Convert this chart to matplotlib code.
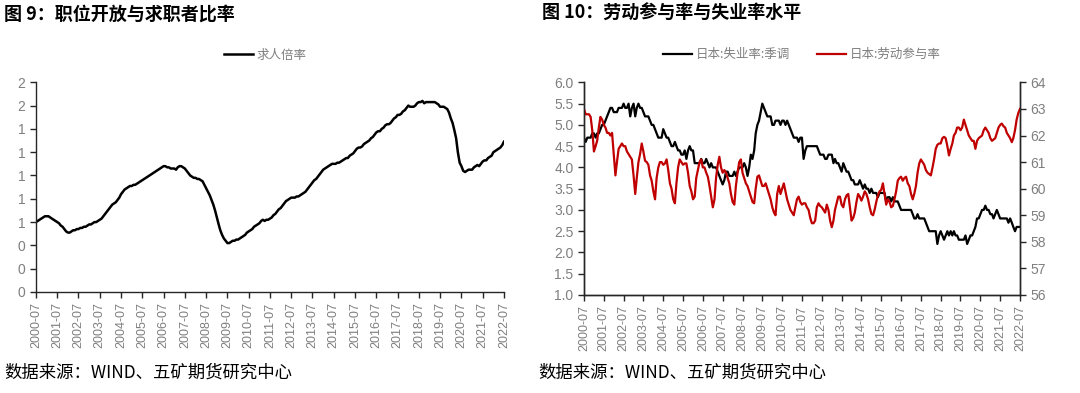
import numpy as np
import pandas as pd
import matplotlib
matplotlib.use("Agg")
import matplotlib.pyplot as plt
from matplotlib.ticker import FuncFormatter

plt.rcParams['font.family'] = ['Noto Sans CJK SC', 'DejaVu Sans']

# monthly data 2000-07 .. 2022-07
months = pd.date_range('2000-07-01', '2022-07-01', freq='MS')

job_ratio = [
    0.60, 0.61, 0.62, 0.63, 0.64, 0.65,
    0.65, 0.65, 0.64, 0.63, 0.62, 0.61, 0.60, 0.59, 0.57, 0.56, 0.54, 0.52,
    0.51, 0.51, 0.52, 0.53, 0.53, 0.54, 0.54, 0.55, 0.55, 0.56, 0.56, 0.57,
    0.58, 0.58, 0.59, 0.60, 0.60, 0.61, 0.62, 0.63, 0.65, 0.67, 0.69, 0.71,
    0.73, 0.75, 0.76, 0.77, 0.79, 0.81, 0.84, 0.86, 0.88, 0.89, 0.90, 0.91,
    0.91, 0.92, 0.92, 0.93, 0.94, 0.95, 0.96, 0.97, 0.98, 0.99, 1.00, 1.01,
    1.02, 1.03, 1.04, 1.05, 1.06, 1.07, 1.08, 1.08, 1.07, 1.07, 1.06, 1.06,
    1.06, 1.05, 1.07, 1.08, 1.08, 1.07, 1.06, 1.04, 1.02, 1.00, 0.99, 0.98,
    0.98, 0.97, 0.97, 0.96, 0.95, 0.92, 0.89, 0.86, 0.83, 0.79, 0.75, 0.70,
    0.64, 0.58, 0.53, 0.49, 0.46, 0.44, 0.42, 0.42, 0.43, 0.44, 0.44, 0.45,
    0.45, 0.46, 0.47, 0.48, 0.49, 0.51, 0.52, 0.53, 0.54, 0.56, 0.57, 0.58,
    0.59, 0.61, 0.62, 0.61, 0.62, 0.62, 0.63, 0.64, 0.66, 0.67, 0.69, 0.71,
    0.72, 0.74, 0.76, 0.78, 0.79, 0.80, 0.81, 0.81, 0.81, 0.82, 0.82, 0.83,
    0.84, 0.85, 0.86, 0.88, 0.90, 0.92, 0.94, 0.96, 0.97, 0.99, 1.01, 1.03,
    1.05, 1.06, 1.07, 1.08, 1.09, 1.10, 1.10, 1.10, 1.11, 1.11, 1.12, 1.13,
    1.14, 1.15, 1.15, 1.17, 1.18, 1.19, 1.21, 1.23, 1.24, 1.24, 1.25, 1.27,
    1.28, 1.29, 1.30, 1.32, 1.33, 1.35, 1.37, 1.38, 1.38, 1.40, 1.41, 1.43,
    1.44, 1.44, 1.45, 1.47, 1.49, 1.50, 1.52, 1.52, 1.53, 1.55, 1.56, 1.58,
    1.60, 1.59, 1.59, 1.59, 1.60, 1.62, 1.63, 1.63, 1.64, 1.62, 1.63, 1.63,
    1.63, 1.63, 1.63, 1.63, 1.62, 1.61, 1.59, 1.59, 1.59, 1.58, 1.57, 1.54,
    1.49, 1.45, 1.39, 1.32, 1.20, 1.11, 1.08, 1.04, 1.03, 1.04, 1.05, 1.05,
    1.05, 1.07, 1.08, 1.09, 1.08, 1.10, 1.12, 1.13, 1.13, 1.15, 1.16, 1.17,
    1.20, 1.21, 1.22, 1.23, 1.24, 1.26, 1.29,
]

unemp = [
    4.7, 4.6, 4.7, 4.7, 4.7, 4.8,
    4.8, 4.7, 4.8, 4.8, 4.9, 5.0, 5.0, 5.1, 5.2, 5.3, 5.4, 5.4,
    5.3, 5.3, 5.3, 5.4, 5.4, 5.4, 5.5, 5.4, 5.4, 5.5, 5.2, 5.4,
    5.5, 5.2, 5.4, 5.5, 5.4, 5.4, 5.3, 5.2, 5.2, 5.2, 5.1, 5.0,
    5.0, 4.9, 4.8, 4.7, 4.7, 4.7, 4.9, 4.8, 4.7, 4.7, 4.6, 4.5,
    4.5, 4.6, 4.5, 4.4, 4.4, 4.3, 4.3, 4.4, 4.2, 4.4, 4.5, 4.4,
    4.4, 4.1, 4.1, 4.1, 4.1, 4.2, 4.1, 4.1, 4.2, 4.1, 4.0, 4.1,
    4.0, 4.0, 4.0, 3.9, 3.8, 3.7, 3.6, 3.7, 3.9, 3.9, 3.8, 3.8,
    3.8, 3.9, 3.8, 3.9, 4.0, 4.0, 4.0, 4.1, 4.0, 3.8, 4.0, 4.3,
    4.2, 4.4, 4.8, 5.0, 5.1, 5.3, 5.5, 5.4, 5.3, 5.2, 5.2, 5.2,
    5.0, 5.0, 5.1, 5.1, 5.1, 5.0, 5.1, 5.1, 5.0, 5.1, 5.0, 4.9,
    4.8, 4.7, 4.7, 4.7, 4.6, 4.7, 4.7, 4.2, 4.4, 4.5, 4.5, 4.5,
    4.5, 4.5, 4.5, 4.5, 4.4, 4.3, 4.3, 4.3, 4.2, 4.2, 4.3, 4.3,
    4.3, 4.1, 4.2, 4.1, 4.1, 4.0, 3.9, 4.1, 4.0, 3.9, 3.9, 3.8,
    3.7, 3.7, 3.6, 3.6, 3.6, 3.7, 3.6, 3.5, 3.6, 3.5, 3.5, 3.4,
    3.5, 3.4, 3.4, 3.4, 3.3, 3.4, 3.4, 3.4, 3.4, 3.2, 3.3, 3.3,
    3.2, 3.3, 3.2, 3.2, 3.2, 3.1, 3.0, 3.0, 3.0, 3.0, 3.0, 3.0,
    3.0, 2.9, 2.8, 2.8, 2.9, 2.8, 2.8, 2.8, 2.8, 2.7, 2.6, 2.5,
    2.5, 2.5, 2.5, 2.5, 2.2, 2.4, 2.5, 2.4, 2.3, 2.4, 2.5, 2.4,
    2.5, 2.4, 2.5, 2.4, 2.4, 2.3, 2.3, 2.3, 2.3, 2.4, 2.2, 2.3,
    2.4, 2.4, 2.5, 2.6, 2.8, 2.8, 2.9, 3.0, 3.0, 3.1, 3.0, 3.0,
    2.9, 2.9, 2.8, 2.9, 3.0, 2.9, 2.8, 2.8, 2.8, 2.8, 2.8, 2.7,
    2.8, 2.7, 2.6, 2.5, 2.6, 2.6, 2.6,
]

lfpr = [
    63.0, 62.8, 62.8, 62.8, 62.7, 62.2,
    61.4, 61.6, 61.8, 62.3, 62.7, 62.6, 62.4, 62.3, 62.1, 62.1, 62.0, 62.1,
    61.3, 60.5, 61.0, 61.5, 61.6, 61.7, 61.6, 61.6, 61.4, 61.3, 61.2, 61.1,
    60.5, 59.8, 60.4, 61.0, 61.3, 61.7, 61.4, 61.05, 61.0, 60.9, 60.5, 60.3,
    59.9, 59.6, 60.4, 60.8, 61.0, 61.0, 60.9, 60.95, 61.1, 60.7, 60.2, 60.0,
    59.6, 59.45, 60.2, 60.8, 61.1, 61.0, 60.9, 60.95, 60.95, 60.6, 60.1, 59.9,
    59.6, 59.7, 60.4, 60.7, 61.0, 61.1, 60.8, 60.8, 60.6, 60.45, 60.1, 59.7,
    59.3, 59.6, 60.4, 60.9, 61.2, 60.8, 60.6, 60.7, 60.6, 60.4, 60.2, 59.8,
    59.5, 59.4, 60.1, 60.6, 61.0, 61.1, 60.6, 60.4, 60.2, 60.1, 59.9, 59.7,
    59.5, 59.45, 60.0, 60.45, 60.5, 60.3, 60.1, 60.1, 60.2, 60.0, 59.8, 59.6,
    59.3, 59.1, 59.0, 59.8, 60.1, 59.8, 60.0, 60.2, 59.9, 59.6, 59.4, 59.2,
    59.1, 59.0, 59.3, 59.6, 59.7, 59.5, 59.4, 59.45, 59.45, 59.3, 59.2, 58.9,
    58.7, 58.7, 58.8, 59.3, 59.45, 59.35, 59.3, 59.2, 59.1, 59.4, 59.2, 58.8,
    58.55, 58.8, 59.2, 59.45, 59.7, 59.7, 59.4, 59.3, 59.6, 59.75, 59.8, 59.3,
    58.8, 58.9, 59.1, 59.5, 59.8, 59.7, 59.55, 59.7, 59.9, 59.8, 59.6, 59.3,
    59.05, 59.0, 59.2, 59.5, 59.75, 59.9, 59.95, 60.2, 59.8, 59.4, 59.6, 59.5,
    59.3, 59.35, 59.6, 59.9, 60.3, 60.4, 60.45, 60.3, 60.4, 60.45, 60.2, 60.1,
    59.8, 59.6, 59.8, 60.1, 60.6, 60.95, 61.1, 61.0, 60.9, 60.7, 60.6, 60.55,
    60.5, 60.8, 61.1, 61.5, 61.65, 61.7, 61.7, 61.9, 61.95, 61.9, 61.6, 61.25,
    61.5, 61.7, 62.0, 62.1, 62.3, 62.3, 62.2, 62.3, 62.6, 62.4, 62.2, 62.0,
    61.9, 61.8, 61.8, 61.5, 61.8, 61.9, 61.95, 62.0, 62.2, 62.3, 62.2, 62.1,
    61.9, 61.8, 61.85, 61.9, 62.1, 62.3, 62.4, 62.45, 62.35, 62.3, 62.1, 62.0,
    61.9, 61.75, 61.9, 62.2, 62.6, 62.85, 63.0,
]

tick_dates = pd.date_range('2000-07-01', '2022-07-01', freq='12MS')
tick_labels = [d.strftime('%Y-%m') for d in tick_dates]

title_left = '图 9：职位开放与求职者比率'
title_right = '图 10：劳动参与率与失业率水平'
source = '数据来源：WIND、五矿期货研究中心'

gray = '#7f7f7f'
red = '#C00000'
num_font = ['Liberation Sans', 'DejaVu Sans']


def style_xaxis(ax):
    ax.set_xlim(months[0], months[-1])
    ax.set_xticks(tick_dates)
    ax.set_xticklabels(tick_labels, rotation=90, fontsize=9, color=gray,
                       family=num_font)
    ax.spines['top'].set_visible(False)
    for s in ['left', 'bottom', 'right']:
        ax.spines[s].set_color('#262626')
        ax.spines[s].set_linewidth(1.0)
    ax.tick_params(direction='out', length=4, width=1.0, color='#262626')


def style_ylabels(ax):
    for t in ax.get_yticklabels():
        t.set_color(gray)
        t.set_fontsize(10)
        t.set_family(num_font)


fig = plt.figure(figsize=(10.8, 3.93), dpi=100)

# left panel
ax1 = fig.add_axes([0.0333, 0.257, 0.4333, 0.5336])
ax1.plot(months, job_ratio, color='black', lw=1.8, label='求人倍率')
style_xaxis(ax1)
ax1.spines['right'].set_visible(False)
ax1.set_ylim(0, 1.8)
ax1.set_yticks(np.arange(0, 1.81, 0.2))
ax1.yaxis.set_major_formatter(FuncFormatter(lambda v, p: f'{v:.0f}'))
style_ylabels(ax1)
ax1.legend(loc='center', bbox_to_anchor=(0.49, 1.13), frameon=False,
           fontsize=9, labelcolor=gray, handlelength=2.3, handletextpad=0.3)

# right panel
ax2 = fig.add_axes([0.5407, 0.2494, 0.4037, 0.541])
l1, = ax2.plot(months, unemp, color='black', lw=1.6, label='日本:失业率:季调')
ax2.set_ylim(1.0, 6.0)
ax2.set_yticks(np.arange(1.0, 6.01, 0.5))
ax2.yaxis.set_major_formatter(FuncFormatter(lambda v, p: f'{v:.1f}'))
ax3 = ax2.twinx()
l2, = ax3.plot(months, lfpr, color=red, lw=1.6, label='日本:劳动参与率')
ax3.set_ylim(56, 64)
ax3.set_yticks(np.arange(56, 65, 1))
style_xaxis(ax2)
style_xaxis(ax3)
style_ylabels(ax2)
style_ylabels(ax3)
ax2.legend(handles=[l1, l2], loc='center', bbox_to_anchor=(0.5, 1.13),
           ncol=2, frameon=False, fontsize=9, labelcolor=gray,
           handlelength=2.3, handletextpad=0.3, columnspacing=2.2)

fig.text(0.004, 0.965, title_left, fontsize=13, fontweight='bold', va='center')
fig.text(0.502, 0.965, title_right, fontsize=13, fontweight='bold', va='center')
fig.text(0.004, 0.053, source, fontsize=12.5, va='center')
fig.text(0.498, 0.053, source, fontsize=12.5, va='center')

fig.savefig('out.png', dpi=100)
